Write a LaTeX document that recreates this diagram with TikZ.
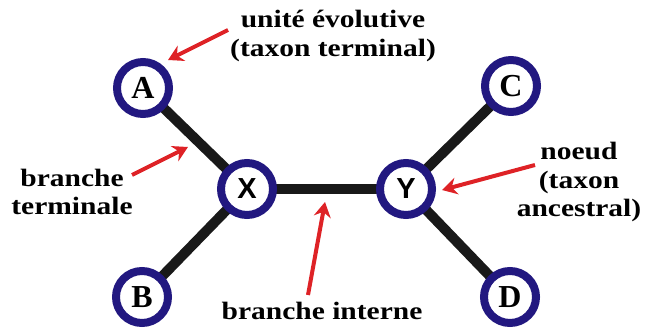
\documentclass[tikz,border=0pt]{standalone}
\usepackage{fontspec}
\newfontfamily\lblfont{Liberation Serif}[FakeStretch=1.18]
\newfontfamily\letfont{Liberation Serif}
\newfontfamily\hidfont{Liberation Sans}
\usetikzlibrary{arrows.meta}
\usetikzlibrary{backgrounds}
\definecolor{ringblue}{RGB}{34,24,128}
\definecolor{arrowred}{RGB}{222,34,38}

\begin{document}
\begin{tikzpicture}[x=1pt,y=-1pt,
    taxon/.style={circle,draw=ringblue,line width=8pt,fill=white,minimum size=52pt,inner sep=0pt},
    leaf/.style={taxon,font=\letfont\fontsize{32}{32}\selectfont\bfseries},
    inner/.style={taxon,font=\hidfont\fontsize{29}{29}\selectfont\bfseries},
    branch/.style={line width=10pt,black!90},
    note/.style={align=center,inner sep=0pt,font=\lblfont\fontsize{25}{28.5}\selectfont\bfseries},
    pointer/.style={arrowred,line width=4pt,-{Stealth[length=15pt,width=17pt,inset=5pt]}}]
    \useasboundingbox (0,0) rectangle (645,331);
    % arbre non enracine
    \node[leaf] (A) at (143,88) {A};
    \node[leaf] (B) at (142,297) {B};
    \node[leaf] (C) at (511,86) {C};
    \node[leaf] (D) at (510,297) {D};
    \node[inner] (X) at (247,189) {X};
    \node[inner] (Y) at (406,189) {Y};
    \begin{scope}[on background layer]
        \draw[branch] (A.center) -- (X.center) -- (B.center);
        \draw[branch] (X.center) -- (Y.center);
        \draw[branch] (C.center) -- (Y.center) -- (D.center);
    \end{scope}
    % legendes
    \node[note] (unite) at (333,36) {unité évolutive\\(taxon terminal)};
    \node[note] (bterm) at (72,192) {branche\\terminale};
    \node[note] (noeud) at (579,182) {noeud\\(taxon\\ancestral)};
    \node[note] (binte) at (322,311) {branche interne};
    \coordinate (tA) at (228,30);  \coordinate (hA) at (168,60);
    \coordinate (tT) at (132,175); \coordinate (hT) at (188,147);
    \coordinate (tN) at (535,165); \coordinate (hN) at (442,190);
    \coordinate (tI) at (308,295); \coordinate (hI) at (325,202);
    \draw[pointer] (tA) -- (hA);
    \draw[pointer] (tT) -- (hT);
    \draw[pointer] (tN) -- (hN);
    \draw[pointer] (tI) -- (hI);
\end{tikzpicture}
\end{document}
